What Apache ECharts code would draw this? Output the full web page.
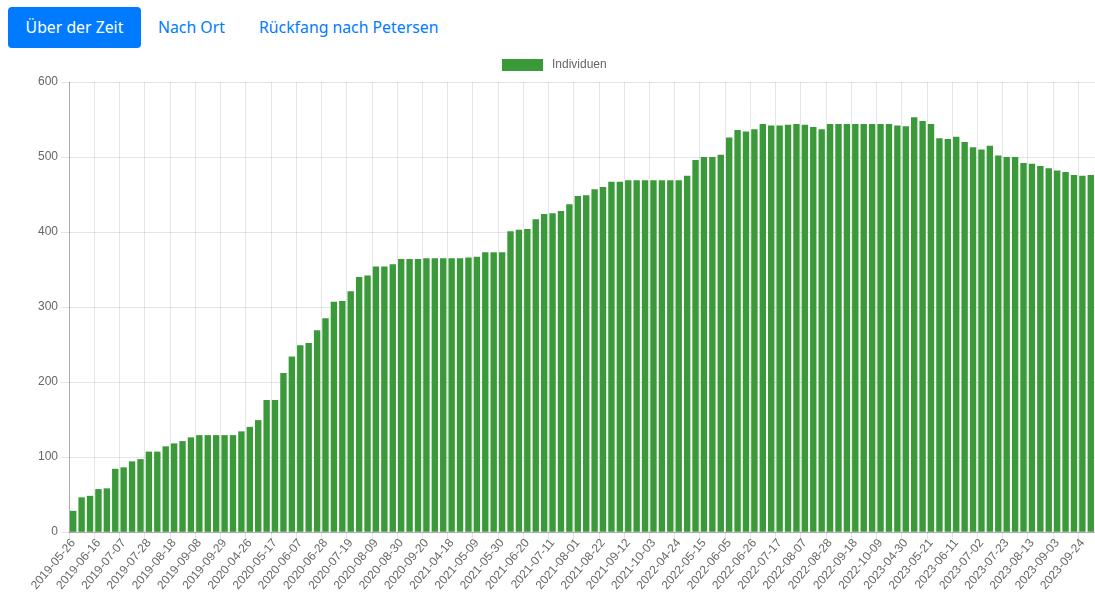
<!DOCTYPE html>
<html>
<head>
<meta charset="utf-8">
<script src="https://cdn.jsdelivr.net/npm/echarts@6/dist/echarts.min.js"></script>
<style>
  body { margin: 0; background: #fff; font-family: "Noto Sans", sans-serif; }
  .pill { position: absolute; top: 7px; height: 41px; line-height: 41px; font-size: 15.8px; color: #007bff; white-space: nowrap; }
  .pill.active { left: 8px; width: 133px; background: #007bff; color: #fff; border-radius: 4px; text-align: center; }
  #chart { position: absolute; left: 0; top: 50px; width: 1095px; height: 544px; }
</style>
</head>
<body>
<div class="pill active">Über der Zeit</div>
<div class="pill" style="left:158px">Nach Ort</div>
<div class="pill" style="left:259px">Rückfang nach Petersen</div>
<div id="chart"></div>
<script>
// weekly survey dates (Sundays), season by season
const dates2019 = [
  "2019-05-26", "2019-06-02", "2019-06-09", "2019-06-16", "2019-06-23", "2019-06-30",
  "2019-07-07", "2019-07-14", "2019-07-21", "2019-07-28", "2019-08-04", "2019-08-11",
  "2019-08-18", "2019-08-25", "2019-09-01", "2019-09-08", "2019-09-15", "2019-09-22",
  "2019-09-29", "2019-10-06", "2019-10-13"
];
const dates2020 = [
  "2020-04-26", "2020-05-03", "2020-05-10", "2020-05-17", "2020-05-24", "2020-05-31",
  "2020-06-07", "2020-06-14", "2020-06-21", "2020-06-28", "2020-07-05", "2020-07-12",
  "2020-07-19", "2020-07-26", "2020-08-02", "2020-08-09", "2020-08-16", "2020-08-23",
  "2020-08-30", "2020-09-06", "2020-09-13", "2020-09-20", "2020-09-27", "2020-10-04"
];
const dates2021 = [
  "2021-04-18", "2021-04-25", "2021-05-02", "2021-05-09", "2021-05-16", "2021-05-23",
  "2021-05-30", "2021-06-06", "2021-06-13", "2021-06-20", "2021-06-27", "2021-07-04",
  "2021-07-11", "2021-07-18", "2021-07-25", "2021-08-01", "2021-08-08", "2021-08-15",
  "2021-08-22", "2021-08-29", "2021-09-05", "2021-09-12", "2021-09-19", "2021-09-26",
  "2021-10-03", "2021-10-10", "2021-10-17"
];
const dates2022 = [
  "2022-04-24", "2022-05-01", "2022-05-08", "2022-05-15", "2022-05-22", "2022-05-29",
  "2022-06-05", "2022-06-12", "2022-06-19", "2022-06-26", "2022-07-03", "2022-07-10",
  "2022-07-17", "2022-07-24", "2022-07-31", "2022-08-07", "2022-08-14", "2022-08-21",
  "2022-08-28", "2022-09-04", "2022-09-11", "2022-09-18", "2022-09-25", "2022-10-02",
  "2022-10-09", "2022-10-16", "2022-10-23"
];
const dates2023 = [
  "2023-04-30", "2023-05-07", "2023-05-14", "2023-05-21", "2023-05-28", "2023-06-04",
  "2023-06-11", "2023-06-18", "2023-06-25", "2023-07-02", "2023-07-09", "2023-07-16",
  "2023-07-23", "2023-07-30", "2023-08-06", "2023-08-13", "2023-08-20", "2023-08-27",
  "2023-09-03", "2023-09-10", "2023-09-17", "2023-09-24", "2023-10-01"
];

// Individuen per date, same order as the dates
const individuen2019 = [28, 46, 48, 57, 58, 84, 86, 94, 97, 107, 107, 114, 118, 121, 126, 129, 129, 129, 129, 129, 134];
const individuen2020 = [140, 149, 176, 176, 212, 234, 249, 252, 269, 285, 307, 308, 321, 340, 342, 354, 354, 357, 364, 364, 364, 365, 365, 365];
const individuen2021 = [365, 365, 366, 367, 373, 373, 373, 401, 403, 404, 417, 424, 425, 428, 437, 448, 449, 457, 460, 467, 467, 469, 469, 469, 469, 469, 469];
const individuen2022 = [469, 475, 496, 500, 500, 503, 526, 536, 534, 537, 544, 542, 542, 543, 544, 543, 540, 537, 544, 544, 544, 544, 544, 544, 544, 544, 542];
const individuen2023 = [541, 553, 548, 544, 525, 524, 527, 520, 513, 510, 515, 502, 500, 500, 492, 491, 488, 485, 482, 480, 476, 475, 476];

const yTicks = [0, 100, 200, 300, 400, 500, 600];

const dates = [].concat(dates2019, dates2020, dates2021, dates2022, dates2023);
const individuen = [].concat(individuen2019, individuen2020, individuen2021, individuen2022, individuen2023);

const chart = echarts.init(document.getElementById("chart"), null, { renderer: "canvas" });

const textFont = "Liberation Sans, Arial, sans-serif";

chart.setOption({
  animation: false,
  backgroundColor: "#fff",
  legend: {
    data: ["Individuen"],
    left: 497,
    top: 4,
    icon: "rect",
    itemWidth: 41,
    itemHeight: 12,
    textStyle: { color: "#666", fontSize: 12, fontFamily: textFont, padding: [0, 0, 0, 4] },
  },
  grid: {
    left: 69,
    top: 32,
    width: 1029,
    height: 450,
    containLabel: false,
  },
  xAxis: {
    type: "category",
    data: dates,
    boundaryGap: true,
    axisLine: { lineStyle: { color: "rgba(0,0,0,0.25)" } },
    axisTick: { show: true, interval: 2, length: 8, lineStyle: { color: "rgba(0,0,0,0.1)" } },
    splitLine: { show: true, interval: 2, lineStyle: { color: "rgba(0,0,0,0.1)" } },
    axisLabel: {
      interval: 2,
      rotate: 50,
      margin: 9,
      color: "#666",
      fontSize: 12,
      fontFamily: textFont,
    },
  },
  yAxis: {
    type: "value",
    min: yTicks[0],
    max: yTicks[yTicks.length - 1],
    interval: 100,
    axisLine: { show: true, lineStyle: { color: "rgba(0,0,0,0.25)" } },
    axisTick: { show: true, length: 8, lineStyle: { color: "rgba(0,0,0,0.1)" } },
    splitLine: { lineStyle: { color: "rgba(0,0,0,0.1)" } },
    axisLabel: { margin: 11, color: "#666", fontSize: 12, fontFamily: textFont },
  },
  series: [
    {
      name: "Individuen",
      type: "bar",
      data: individuen,
      barCategoryGap: "24%",
      itemStyle: { color: "#3a9a3a" },
    },
  ],
});
</script>
</body>
</html>
